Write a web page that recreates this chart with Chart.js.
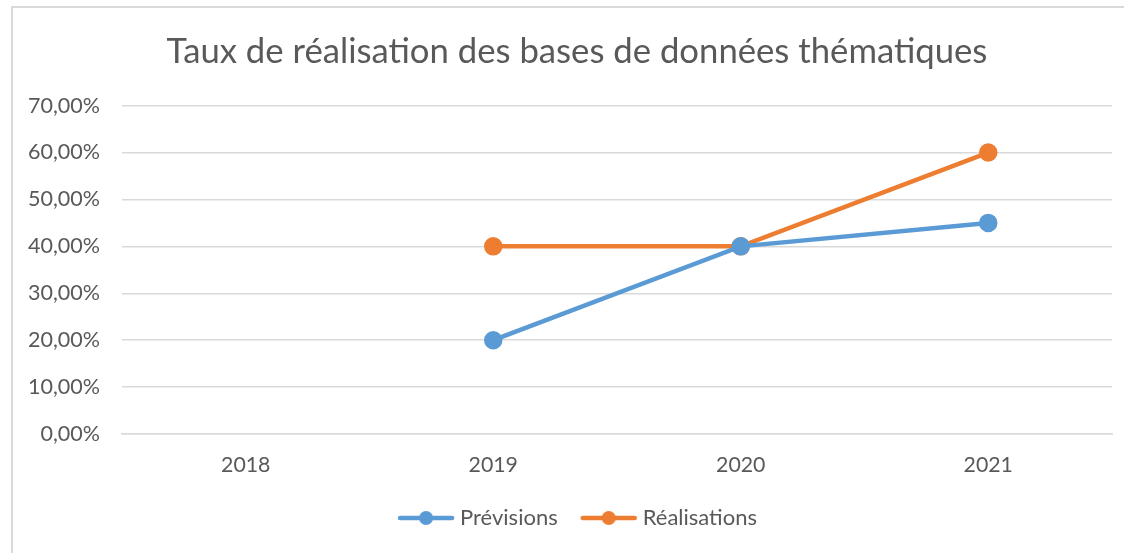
<!DOCTYPE html>
<html>
<head>
<meta charset="utf-8">
<script src="https://cdn.jsdelivr.net/npm/chart.js@4"></script>
<style>
  html, body { margin: 0; padding: 0; background: #fff; overflow: hidden; }
  #frame { position: absolute; left: 11px; top: 6px; width: 1200px; height: 600px; border: 2px solid #d9d9d9; box-sizing: border-box; }
  #chart { position: absolute; left: 0; top: 0; }
</style>
</head>
<body>
<div id="frame"></div>
<canvas id="chart" width="1124" height="553"></canvas>
<script>
const years = ['2018', '2019', '2020', '2021'];
const previsions = [null, 20, 40, 45];
const realisations = [null, 40, 40, 60];
const titleText = 'Taux de réalisation des bases de données thématiques';

const BLUE = '#5b9bd5';
const ORANGE = '#ed7d31';
const TEXT = '#595959';
const GRID = '#d9d9d9';
const FONT = 'Lato, "Open Sans", sans-serif';
const LEGEND_H = 62;

// legend marker: line with a dot in the middle
function legendMarker(color){
  const c = document.createElement('canvas');
  c.width = 60; c.height = 16;
  const g = c.getContext('2d');
  g.strokeStyle = color; g.lineWidth = 4.5; g.lineCap = 'round';
  g.beginPath(); g.moveTo(4, 8); g.lineTo(56, 8); g.stroke();
  g.fillStyle = color;
  g.beginPath(); g.arc(30, 8, 7, 0, Math.PI*2); g.fill();
  return c;
}
const markers = [legendMarker(BLUE), legendMarker(ORANGE)];

// fix legend height and nudge title/legend to the right a little
const tweakBoxes = {
  id: 'tweakBoxes',
  beforeLayout(chart){
    const lg = chart.legend;
    if(lg && !lg._patched){
      const fit = lg.fit;
      lg.fit = function(){ fit.call(this); this.height = LEGEND_H; };
      lg._patched = true;
    }
  },
  afterLayout(chart){
    chart.legend.left += 11; chart.legend.right += 11;
    chart.titleBlock.left += 8; chart.titleBlock.right += 8;
  }
};

const ctx = document.getElementById('chart').getContext('2d');
new Chart(ctx, {
  type: 'line',
  data: {
    labels: years,
    datasets: [
      { label: 'Prévisions', data: previsions, borderColor: BLUE, backgroundColor: BLUE,
        borderWidth: 4.5, pointRadius: 7, pointHoverRadius: 7, tension: 0 },
      { label: 'Réalisations', data: realisations, borderColor: ORANGE, backgroundColor: ORANGE,
        borderWidth: 4.5, pointRadius: 7, pointHoverRadius: 7, tension: 0 }
    ]
  },
  plugins: [tweakBoxes],
  options: {
    responsive: false,
    animation: false,
    layout: { padding: { left: 26, right: 12, top: 0, bottom: 12 } },
    plugins: {
      title: {
        display: true, text: titleText, color: TEXT,
        font: { family: FONT, size: 34.7, weight: 'normal' },
        padding: { top: 31, bottom: 33 }
      },
      legend: {
        position: 'bottom',
        labels: {
          color: TEXT, font: { family: FONT, size: 22 },
          usePointStyle: true, pointStyleWidth: 46, padding: 28,
          generateLabels: (chart) => chart.data.datasets.map((ds, i) => ({
            text: ds.label, pointStyle: markers[i], fillStyle: ds.borderColor,
            strokeStyle: ds.borderColor, lineWidth: 0, datasetIndex: i, fontColor: TEXT
          }))
        }
      },
      tooltip: { enabled: false }
    },
    scales: {
      x: {
        offset: true,
        afterFit: (s) => { s.height = 45; },
        grid: { display: false, drawTicks: false },
        border: { display: true, color: GRID, width: 1.5 },
        ticks: { color: TEXT, font: { family: FONT, size: 21.3 }, padding: 18 }
      },
      y: {
        min: 0, max: 70,
        afterFit: (s) => { s.width = 96; },
        grid: { color: GRID, lineWidth: 1.5, drawTicks: false },
        border: { display: false },
        ticks: {
          stepSize: 10, color: TEXT, font: { family: FONT, size: 21.5 }, padding: 22,
          callback: (v) => v.toFixed(2).replace('.', ',') + '%'
        }
      }
    }
  }
});
</script>
</body>
</html>
